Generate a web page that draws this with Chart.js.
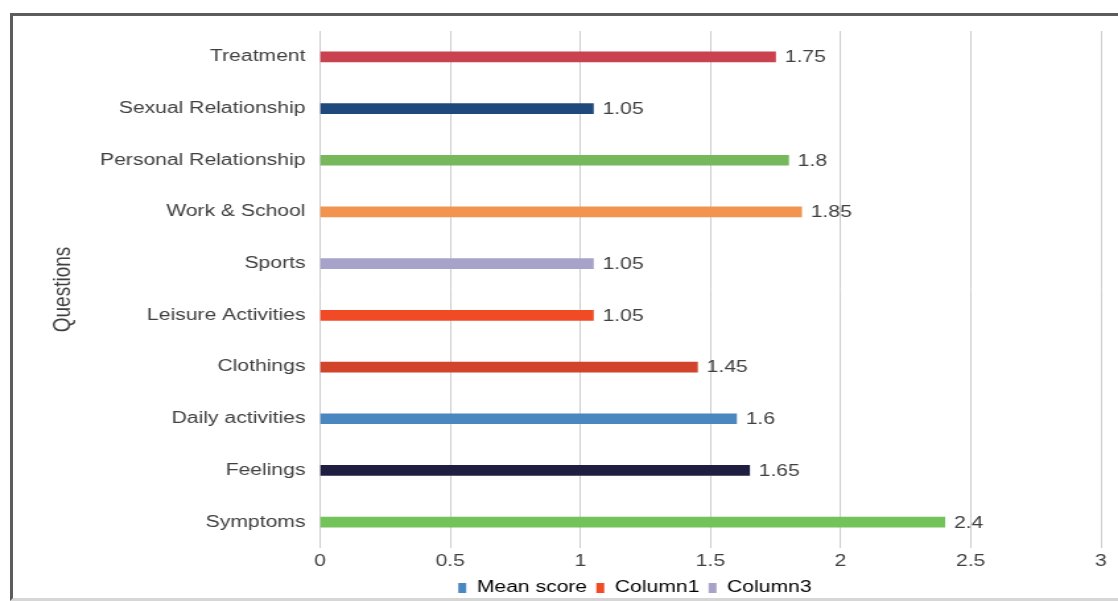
<!DOCTYPE html>
<html>
<head>
<meta charset="utf-8">
<script src="https://cdn.jsdelivr.net/npm/chart.js@4.4.1/dist/chart.umd.min.js"></script>
<style>
  html, body { margin: 0; padding: 0; background: #ffffff; }
  #wrap { position: relative; width: 1118px; height: 601px; overflow: hidden; background: #fff; }
  /* the chart is laid out narrow and widened, giving the broad lettering */
  #plot { position: absolute; left: 0; top: 0; width: 962px; height: 601px;
          transform: scaleX(1.32); transform-origin: 0 0; }
  #frame {
    position: absolute; left: 10px; top: 13px; width: 1200px; height: 582px;
    border-left: 3px solid #5c5c5c; border-top: 3px solid #5c5c5c;
    border-bottom: 3px solid #d6d6d6; pointer-events: none;
  }
</style>
</head>
<body>
<div id="wrap">
  <div id="plot"><canvas id="c" width="962" height="601"></canvas></div>
  <div id="frame"></div>
</div>
<script>
// Questionnaire items, top to bottom
const questions = [
  'Treatment', 'Sexual Relationship', 'Personal Relationship', 'Work & School',
  'Sports', 'Leisure Activities', 'Clothings', 'Daily activities', 'Feelings', 'Symptoms'
];
// Mean score per item
const meanScores = [1.75, 1.05, 1.8, 1.85, 1.05, 1.05, 1.45, 1.6, 1.65, 2.4];
// One colour per bar
const barColors = [
  '#c8434f', '#1f497d', '#78b85c', '#f29450', '#a7a2ca',
  '#f04b24', '#d1432b', '#4a86c0', '#1f1d40', '#72c35a'
];
// Legend entries
const legendNames = ['Mean score', 'Column1', 'Column3'];
const legendColors = ['#4a86c0', '#f04b24', '#a7a2ca'];
// Value axis ticks
const xTicks = [0, 0.5, 1, 1.5, 2, 2.5, 3];

const textColor = '#404040';
const fontFamily = '"Liberation Sans", Arial, sans-serif';

// Writes each bar's value just past its end
const valueLabels = {
  id: 'valueLabels',
  afterDatasetsDraw(chart) {
    const ctx = chart.ctx;
    const meta = chart.getDatasetMeta(0);
    ctx.save();
    ctx.fillStyle = textColor;
    ctx.font = '16px ' + fontFamily;
    ctx.textAlign = 'left';
    ctx.textBaseline = 'middle';
    meta.data.forEach((bar, i) => {
      ctx.fillText(String(meanScores[i]), bar.x + 7, bar.y + 1);
    });
    ctx.restore();
  }
};

new Chart(document.getElementById('c'), {
  type: 'bar',
  data: {
    labels: questions,
    datasets: [{
      label: legendNames[0],
      data: meanScores,
      backgroundColor: barColors,
      barThickness: 10
    }]
  },
  options: {
    indexAxis: 'y',
    responsive: false,
    animation: false,
    layout: { padding: { top: 31, bottom: -5, left: 0, right: 0 } },
    plugins: {
      legend: {
        position: 'bottom',
        labels: {
          color: textColor,
          font: { family: fontFamily, size: 16 },
          boxWidth: 6,
          boxHeight: 10,
          padding: 7,
          generateLabels: () => legendNames.map((n, i) => ({
            text: n,
            fillStyle: legendColors[i],
            strokeStyle: legendColors[i],
            lineWidth: 0,
            hidden: false,
            datasetIndex: 0
          }))
        },
        onClick: () => {}
      },
      tooltip: { enabled: false }
    },
    scales: {
      x: {
        min: 0,
        max: 3,
        afterBuildTicks: (s) => { s.ticks = xTicks.map(v => ({ value: v })); },
        grid: { color: '#cdcdcd', lineWidth: 1, drawTicks: false },
        border: { display: false },
        ticks: {
          color: textColor,
          font: { family: fontFamily, size: 16 },
          padding: 4,
          callback: (v) => String(v)
        },
        afterFit: (s) => { s.height = 25; }
      },
      y: {
        grid: { display: false, drawTicks: false },
        border: { display: false },
        ticks: {
          color: textColor,
          font: { family: fontFamily, size: 16 },
          padding: 11
        },
        title: {
          display: true,
          text: 'Questions',
          color: textColor,
          font: { family: fontFamily, size: 19 },
          padding: { top: 36, bottom: 0 }
        },
        afterFit: (s) => { s.width = 242.4; }
      },
      yRight: {
        position: 'right',
        display: true,
        grid: { display: false, drawTicks: false },
        border: { display: false },
        ticks: { display: false },
        afterFit: (s) => { s.width = 128; }
      }
    }
  },
  plugins: [valueLabels]
});
</script>
</body>
</html>
